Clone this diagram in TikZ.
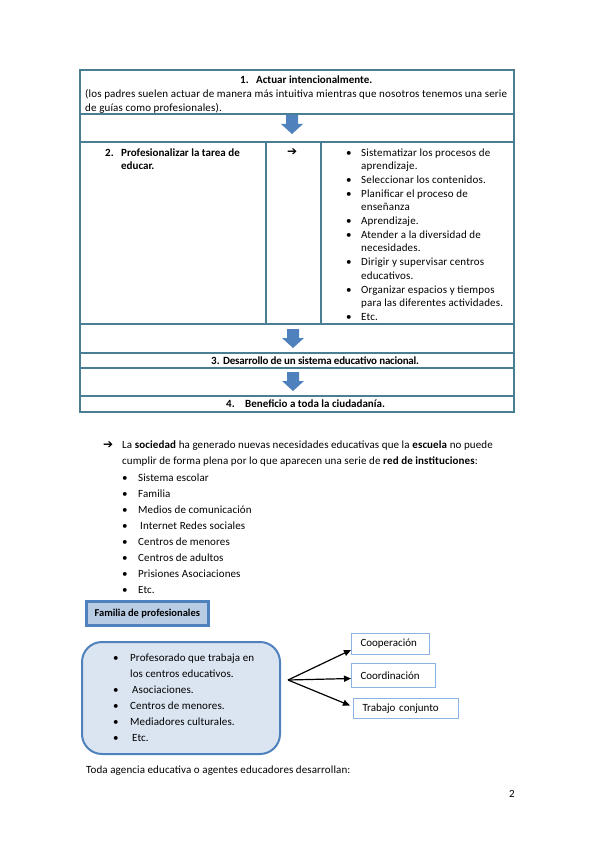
\documentclass[tikz,border=0pt]{standalone}
\usepackage{fontspec}
\setmainfont{Carlito}
\newfontfamily\symfont{DejaVu Sans}
\usetikzlibrary{arrows.meta,shadows}
\definecolor{tblline}{RGB}{74,126,147}
\definecolor{arrowblue}{RGB}{79,129,189}
\definecolor{famfill}{RGB}{184,204,228}
\definecolor{roundfill}{RGB}{219,229,241}
\definecolor{boxline}{RGB}{141,179,226}
\newcommand{\bul}{\makebox[15pt][l]{•}}
\newcommand{\bulb}{\makebox[16pt][l]{•}}
\newcommand{\ind}{\hspace*{15pt}}
\newcommand{\rarr}{{\symfont\bfseries\fontsize{12}{12}\selectfont ➔}}
\newcommand{\ml}[1]{\parbox[t]{440pt}{\raggedright #1}}
\begin{document}
\begin{tikzpicture}[x=1pt,y=-1pt,
  tbl/.style={draw=tblline, line width=1.6pt},
  txt/.style={inner sep=0pt, anchor=base west, font=\fontsize{11}{13.7}\selectfont\addfontfeature{LetterSpace=1.5}},
  btxt/.style={inner sep=0pt, anchor=base west, font=\fontsize{11}{13.7}\selectfont\bfseries},
  ltxt/.style={inner sep=0pt, anchor=base west, font=\fontsize{11}{16}\selectfont\addfontfeature{LetterSpace=1}},
  blkarrow/.pic={\fill[arrowblue] (-6,0) -- (6,0) -- (6,9) -- (11,9) -- (0,19) -- (-11,9) -- (-6,9) -- cycle;},
  smallbox/.style={draw=boxline, line width=1pt, inner xsep=9pt, inner ysep=0pt, anchor=north west, align=left, font=\fontsize{11}{12}\selectfont},
  conn/.style={line width=1.2pt, -{Triangle[length=7pt,width=6pt]}}
]
\useasboundingbox (0,0) rectangle (599,848);
\fill[white] (0,0) rectangle (599,848);

% ---------- table ----------
\draw[tbl] (80,70) rectangle (514,412);
\draw[tbl] (80,114) -- (514,114);
\draw[tbl] (80,142) -- (514,142);
\draw[tbl] (80,324) -- (514,324);
\draw[tbl] (80,353) -- (514,353);
\draw[tbl] (80,368) -- (514,368);
\draw[tbl] (80,396) -- (514,396);
\draw[tbl] (266,142) -- (266,324);
\draw[tbl] (321,142) -- (321,324);

\pic at (292,115) {blkarrow};
\pic at (293,329) {blkarrow};
\pic at (293,372) {blkarrow};

\node[btxt] (n1) at (240,84) {1.};
\node[btxt] (t1) at (256,84) {Actuar intencionalmente.};
\node[txt] (t1b) at (85,98) {\ml{(los padres suelen actuar de manera más intuitiva mientras que nosotros tenemos una serie\\de guías como profesionales).}};

\node[btxt] (n2) at (105,156) {2.};
\node[btxt] (t2) at (121,156) {\ml{Profesionalizar la tarea de\\educar.}};
\node[txt] (a2) at (287,155) {\rarr};
\node[txt] (c3) at (346,156) {\ml{\bul Sistematizar los procesos de\\
\ind aprendizaje.\\
\bul Seleccionar los contenidos.\\
\bul Planificar el proceso de\\
\ind enseñanza\\
\bul Aprendizaje.\\
\bul Atender a la diversidad de\\
\ind necesidades.\\
\bul Dirigir y supervisar centros\\
\ind educativos.\\
\bul Organizar espacios y tiempos\\
\ind para las diferentes actividades.\\
\bul Etc.}};

\node[btxt] (n3) at (211,364) {3.};
\node[btxt] (t3) at (223,364) {\addfontfeature{LetterSpace=-2}Desarrollo de un sistema educativo nacional.};
\node[btxt] (n4) at (226,407) {4.};
\node[btxt] (t4) at (245,407) {Beneficio a toda la ciudadanía.};

% ---------- list ----------
\node[ltxt] (la) at (103,448) {\rarr};
\node[ltxt] (l1) at (122,448) {\ml{La \textbf{sociedad} ha generado nuevas necesidades educativas que la \textbf{escuela} no puede\\cumplir de forma plena por lo que aparecen una serie de \textbf{red de instituciones}:}};
\node[ltxt] (l2) at (122,481) {\ml{\bulb Sistema escolar\\
\bulb Familia\\
\bulb Medios de comunicación\\
\bulb\hspace*{2pt}Internet Redes sociales\\
\bulb Centros de menores\\
\bulb Centros de adultos\\
\bulb Prisiones Asociaciones\\
\bulb Etc.}};

% ---------- familia ----------
\node[draw=arrowblue, line width=2.5pt, fill=famfill, minimum width=122pt, minimum height=24pt, anchor=north west,
      drop shadow={shadow xshift=2pt, shadow yshift=-2pt, fill=black!35}, font=\fontsize{10.5}{12}\selectfont\bfseries] (fam) at (85,600) {Familia de profesionales};

\node[draw=arrowblue, line width=2pt, fill=roundfill, rounded corners=20pt, minimum width=198pt, minimum height=112pt, anchor=north west] (rb) at (81,641) {};
\node[ltxt] (rl) at (113,661) {\ml{\makebox[17pt][l]{•}Profesorado que trabaja en\\
\hspace*{17pt}los centros educativos.\\
\makebox[17pt][l]{•}\hspace*{2pt}Asociaciones.\\
\makebox[17pt][l]{•}Centros de menores.\\
\makebox[17pt][l]{•}Mediadores culturales.\\
\makebox[17pt][l]{•}\hspace*{2pt}Etc.}};

\coordinate (src) at (288,680);
\node[smallbox, minimum width=78pt, minimum height=21pt, text width=60pt] (coop) at (351,633) {Cooperación};
\node[smallbox, minimum width=84pt, minimum height=24pt, text width=66pt] (coord) at (351,663) {Coordinación};
\node[smallbox, minimum width=105pt, minimum height=20pt, text width=87pt] (trab) at (353,698) {Trabajo conjunto};
\draw[conn] (src) -- ([yshift=-6pt]coop.west);
\draw[conn] (src) -- ([yshift=-3pt]coord.west);
\draw[conn] (src) -- ([yshift=3pt,xshift=-3pt]trab.west);

\node[ltxt] (toda) at (86,773) {Toda agencia educativa o agentes educadores desarrollan:};
\node[ltxt] (pg) at (509,797) {2};
\end{tikzpicture}
\end{document}
